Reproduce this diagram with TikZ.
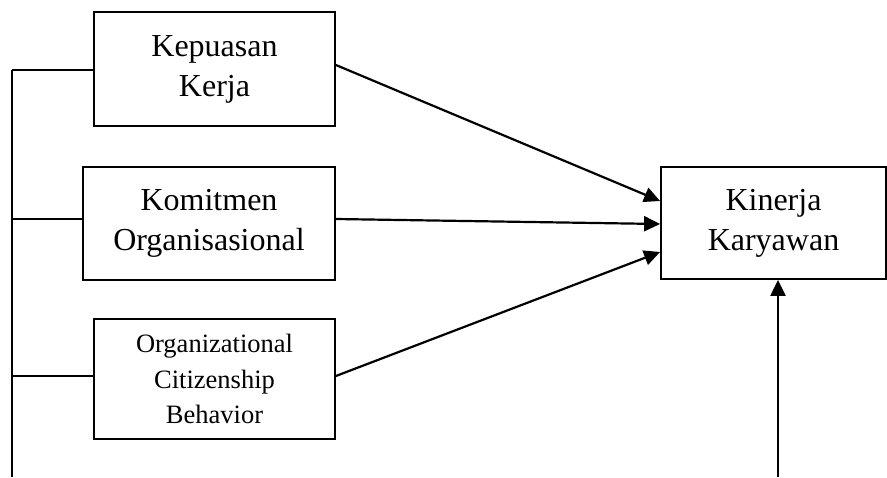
\documentclass[tikz,border=0pt]{standalone}
\usepackage{fontspec}
\setmainfont{Liberation Serif}
\usetikzlibrary{arrows.meta,positioning}
\tikzstyle{box}=[draw,line width=1.8pt,align=center,inner sep=0pt,
  font=\fontsize{32}{40}\selectfont]
\tikzstyle{smallbox}=[box,font=\fontsize{26.5}{35.5}\selectfont]
\tikzstyle{arr}=[-{Triangle[length=16pt,width=15pt]},line width=2.2pt]
\tikzstyle{link}=[line width=1.6pt]

\begin{document}
\begin{tikzpicture}[x=1pt, y=-1pt]
  \useasboundingbox (0,0) rectangle (887,477);
  \node[box, minimum width=241pt, minimum height=114pt] (kk) at (214.5,69) {Kepuasan\\Kerja};
  \node[box, minimum width=252pt, minimum height=113pt] (ko) at (209,223.5) {Komitmen\\Organisasional};
  \node[smallbox, minimum width=241pt, minimum height=120pt] (ocb) at (214.5,379) {Organizational\\Citizenship\\Behavior};
  \node[box, minimum width=225pt, minimum height=112pt] (kin) at (773.5,223) {Kinerja\\Karyawan};

  \coordinate (top) at (12,70);
  \coordinate (bot) at (12,477);
  \coordinate (up) at (778,477);

  % left bracket line
  \draw[link] (top) -- (bot);
  \draw[link] (top) -- (kk.west |- top);
  \draw[link] (12,219) -- (ko.west |- 0,219);
  \draw[link] (12,376) -- (ocb.west |- 0,376);

  % paths to kinerja
  \draw[arr] (kk.east |- 0,65) -- (kin.west |- 0,201);
  \draw[arr] (ko.east |- 0,219) -- (kin.west |- 0,224);
  \draw[arr] (ocb.east |- 0,376) -- (kin.west |- 0,252);
  \draw[arr] (up) -- (up |- kin.south);
\end{tikzpicture}
\end{document}
